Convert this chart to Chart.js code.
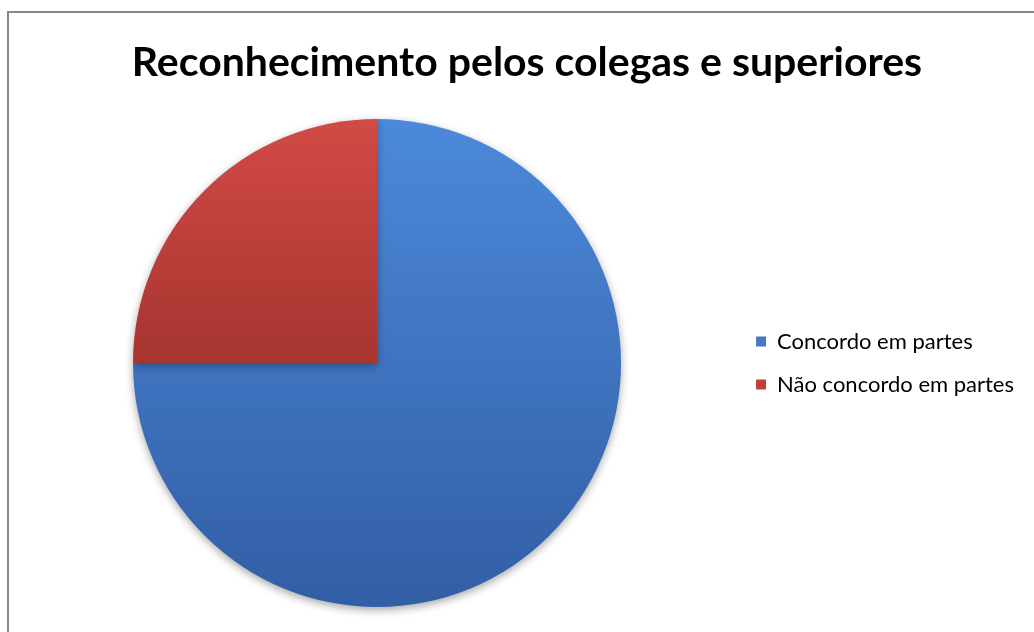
<!DOCTYPE html>
<html>
<head>
<meta charset="utf-8">
<script src="https://cdn.jsdelivr.net/npm/chart.js@4/dist/chart.umd.min.js"></script>
<style>
  html, body { margin: 0; padding: 0; background: #ffffff; overflow: hidden; }
  #wrap { position: relative; width: 1034px; height: 632px; }
</style>
</head>
<body>
<div id="wrap"><canvas id="chart" width="1034" height="632"></canvas></div>
<script>
const chartTitle = 'Reconhecimento pelos colegas e superiores';
const categories = ['Concordo em partes', 'Não concordo em partes'];
const values = [75, 25];

// top / bottom shades for each slice
const sliceTop = ['#4c89da', '#d24a46'];
const sliceBottom = ['#325ea5', '#a6342f'];
const legendFill = ['#4479c8', '#c13f3b'];

function sliceFill(ctx) {
  const chart = ctx.chart;
  const area = chart.chartArea;
  if (!area) return sliceTop[ctx.dataIndex];
  const g = chart.ctx.createLinearGradient(0, area.top, 0, area.bottom);
  if (ctx.dataIndex === 0) {
    g.addColorStop(0, sliceTop[0]);
    g.addColorStop(1, sliceBottom[0]);
  } else {
    g.addColorStop(0, sliceTop[1]);
    g.addColorStop(0.5, sliceBottom[1]);
    g.addColorStop(1, sliceBottom[1]);
  }
  return g;
}

// outer frame of the chart
const framePlugin = {
  id: 'frame',
  beforeDraw(chart) {
    const c = chart.ctx;
    c.save();
    c.fillStyle = '#ffffff';
    c.fillRect(0, 0, chart.width, chart.height);
    c.strokeStyle = '#878787';
    c.lineWidth = 2;
    c.strokeRect(8, 12, chart.width + 20, chart.height + 20);
    c.restore();
  }
};

// soft shadow under the pie
const shadowPlugin = {
  id: 'pieShadow',
  beforeDatasetsDraw(chart) {
    const c = chart.ctx;
    c.save();
    c.shadowColor = 'rgba(0,0,0,0.35)';
    c.shadowBlur = 9;
    c.shadowOffsetX = 0;
    c.shadowOffsetY = 3;
  },
  afterDatasetsDraw(chart) {
    chart.ctx.restore();
  }
};

// heading drawn centred over the frame
const headingPlugin = {
  id: 'heading',
  afterDraw(chart) {
    const c = chart.ctx;
    c.save();
    c.fillStyle = '#000000';
    c.font = 'bold 41px Lato, "Open Sans", sans-serif';
    c.textAlign = 'center';
    c.textBaseline = 'alphabetic';
    c.fillText(chartTitle, 527, 76);
    c.restore();
  }
};

new Chart(document.getElementById('chart'), {
  type: 'pie',
  data: {
    labels: categories,
    datasets: [{
      data: values,
      backgroundColor: sliceFill,
      borderWidth: 0,
      hoverOffset: 0
    }]
  },
  options: {
    responsive: false,
    animation: false,
    events: [],
    layout: { padding: { top: 119, bottom: 25, left: 19, right: 10 } },
    plugins: {
      title: { display: false },
      tooltip: { enabled: false },
      legend: {
        position: 'right',
        labels: {
          boxWidth: 10,
          boxHeight: 10,
          padding: 21,
          color: '#000000',
          font: { family: 'Lato, "Open Sans", sans-serif', size: 22 },
          generateLabels(chart) {
            return categories.map((name, i) => ({
              text: name,
              fillStyle: legendFill[i],
              strokeStyle: legendFill[i],
              lineWidth: 0,
              hidden: false,
              index: i
            }));
          }
        }
      }
    }
  },
  plugins: [framePlugin, shadowPlugin, headingPlugin]
});
</script>
</body>
</html>
